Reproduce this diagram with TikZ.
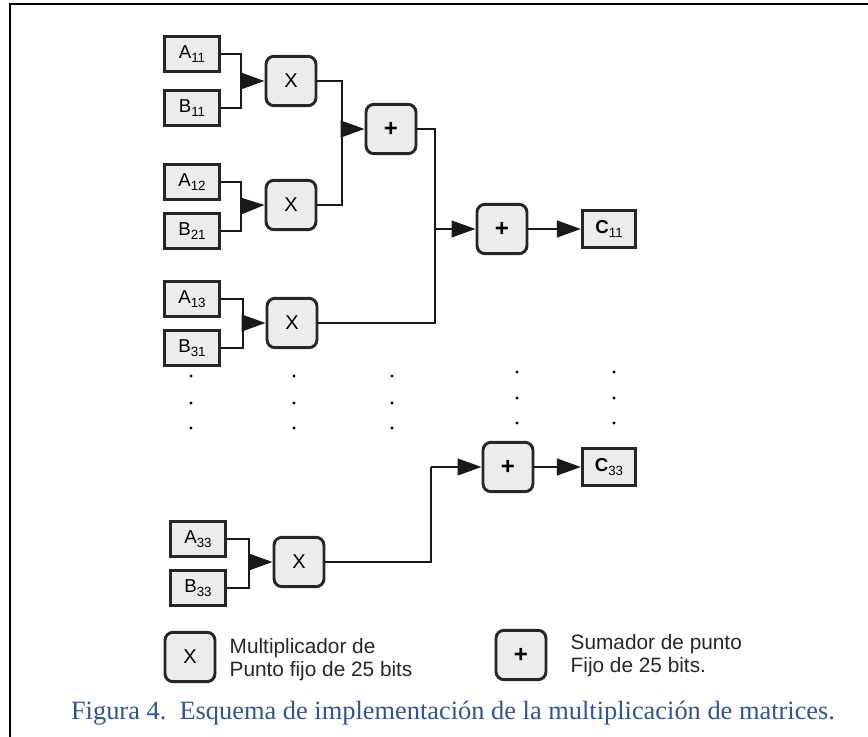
\documentclass[tikz,border=0pt]{standalone}
\usepackage{fontspec}
\setmainfont{Liberation Sans}
\newfontfamily\capfont{Liberation Serif}
\usetikzlibrary{arrows.meta}
\definecolor{capblue}{RGB}{47,84,150}
\newcommand{\lbsub}[1]{\raisebox{-0.4ex}{\fontsize{10}{10}\selectfont #1}}

\begin{document}
\begin{tikzpicture}[x=0.75pt,y=-0.75pt,
  font=\fontsize{14}{15}\selectfont,
  >={Triangle[length=18pt,width=12.5pt]},
  inbox/.style={draw=black!85,line width=2.2pt,fill=gray!15,minimum width=41pt,minimum height=26.5pt,inner sep=0pt},
  outbox/.style={inbox,minimum width=40pt,minimum height=28pt},
  opbox/.style={draw=black!85,line width=2.2pt,fill=gray!15,rounded corners=6pt,minimum width=37.5pt,minimum height=37pt,inner sep=0pt,font=\fontsize{15}{15}\selectfont},
  wire/.style={line width=1.7pt,black!90}]
\useasboundingbox (0,0) rectangle (868,737);
\draw[line width=1.8pt] (10,737) -- (10,4.3) -- (868,4.3);
% entradas
\node[inbox] (a11) at (192,54) {A\lbsub{11}};
\node[inbox] (b11) at (192,108) {B\lbsub{11}};
\node[inbox] (a12) at (192,182) {A\lbsub{12}};
\node[inbox] (b21) at (192,231) {B\lbsub{21}};
\node[inbox] (a13) at (192,299) {A\lbsub{13}};
\node[inbox] (b31) at (192,348) {B\lbsub{31}};
\node[inbox] (a33) at (198,539) {A\lbsub{33}};
\node[inbox] (b33) at (198,588) {B\lbsub{33}};
% multiplicadores y sumadores
\node[opbox] (x1) at (291,81) {X};
\node[opbox] (x2) at (291,205) {X};
\node[opbox] (x3) at (292,323) {X};
\node[opbox] (x4) at (299,562) {X};
\node[opbox] (p1) at (391,129) {\fontsize{18}{18}\selectfont\textbf{+}};
\node[opbox] (p2) at (502,229) {\fontsize{18}{18}\selectfont\textbf{+}};
\node[opbox] (p3) at (508,467) {\fontsize{18}{18}\selectfont\textbf{+}};
\node[outbox] (c11) at (609,229) {\textbf{C}\lbsub{11}};
\node[outbox] (c33) at (609,467) {\textbf{C}\lbsub{33}};
% uniones
\coordinate (j1) at (241,81);
\coordinate (j2) at (241,206);
\coordinate (j3) at (243,323);
\coordinate (j4) at (249,562);
\coordinate (k1) at (342,129);
\coordinate (k2) at (435,229);
\coordinate (k3) at (431,467);
\draw[wire] (a11.east) -| (j1) |- (b11.east);
\draw[wire] (a12.east) -| (j2) |- (b21.east);
\draw[wire] (a13.east) -| (j3) |- (b31.east);
\draw[wire] (a33.east) -| (j4) |- (b33.east);
\draw[wire,->] (j1) -- (x1.west);
\draw[wire,->] (j2) -- (x2.west);
\draw[wire,->] (j3) -- (x3.west);
\draw[wire,->] (j4) -- (x4.west);
\draw[wire] (x1.east) -| (k1) |- (x2.east);
\draw[wire,->] (k1) -- (p1.west);
\draw[wire] (p1.east) -| (k2) |- (x3.east);
\draw[wire,->] (k2) -- (p2.west);
\draw[wire,->] (p2) -- (c11);
\draw[wire] (x4.east) -| (k3);
\draw[wire,->] (k3) -- (p3.west);
\draw[wire,->] (p3) -- (c33);
% puntos suspensivos
\foreach \x in {191,294,392} {\foreach \y in {376,403,428} {\fill (\x,\y) circle (1.3pt);}}
\foreach \x in {517,614} {\foreach \y in {372,398,423} {\fill (\x,\y) circle (1.3pt);}}
% leyenda
\node[opbox] (lx) at (190,657) {X};
\node[opbox] (lp) at (521,655) {\fontsize{18}{18}\selectfont\textbf{+}};
\node[anchor=west,align=left,text=black!85,font=\fontsize{15.6}{17.25}\selectfont] (lxt) at (225,660) {Multiplicador de\\Punto fijo de 25 bits};
\node[anchor=west,align=left,text=black!85,font=\fontsize{15.6}{17.25}\selectfont] (lpt) at (566,656) {Sumador de punto\\Fijo de 25 bits.};
\node[text=capblue,font=\capfont\fontsize{19.8}{22}\selectfont] (cap) at (453,713) {Figura 4.\ \ Esquema de implementación de la multiplicación de matrices.};
\end{tikzpicture}
\end{document}
